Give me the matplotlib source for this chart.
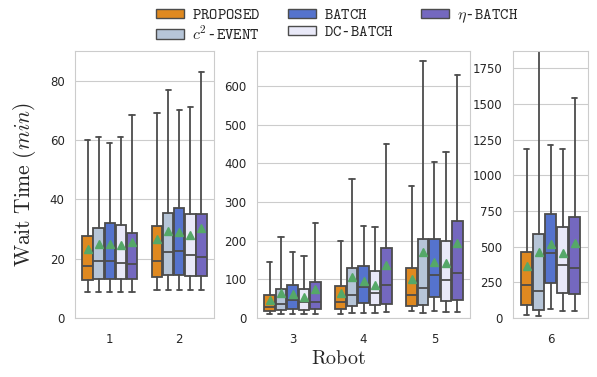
import matplotlib
matplotlib.use('Agg')
import matplotlib.pyplot as plt
import numpy as np
import seaborn as sns
from matplotlib.patches import Patch

sns.set_style('whitegrid')
plt.rcParams['mathtext.fontset'] = 'cm'

# robots split over three panels (different y ranges)
panels = [[1, 2], [3, 4, 5], [6]]
panel_ylim = [90, 690, 1870]
panel_yticks = [np.arange(0, 81, 20), np.arange(0, 601, 100), np.arange(0, 1751, 250)]

methods = ['PROPOSED', 'c2-EVENT', 'BATCH', 'DC-BATCH', 'eta-BATCH']
labels = [r'$\mathtt{PROPOSED}$', r'$c^2$-$\mathtt{EVENT}$', r'$\mathtt{BATCH}$',
          r'$\mathtt{DC}$-$\mathtt{BATCH}$', r'$\eta$-$\mathtt{BATCH}$']
base_colors = ['darkorange', 'lightsteelblue', 'royalblue', 'lavender', 'slateblue']

# box statistics, rows = methods, columns = robots 1..6 (wait time in min)
whislo = np.array([[8.6, 9.4, 11, 11, 18, 21],
                   [8.6, 9.4, 11, 13, 14, 14],
                   [8.6, 9.4, 11, 13, 17, 63],
                   [8.6, 9.4, 11, 13, 16, 49],
                   [8.6, 9.4, 11, 15, 16, 49]])
q1 = np.array([[12.8, 13.7, 18, 22, 31, 91],
               [13.1, 14.4, 21, 30, 33, 56],
               [13.1, 14.4, 23, 38, 54, 243],
               [13.0, 14.0, 21, 33, 45, 173],
               [13.0, 14.3, 22, 36, 46, 166]])
med = np.array([[17.5, 19.3, 29, 41, 59, 228],
                [19.3, 22.2, 37, 59, 78, 191],
                [19.3, 22.6, 47, 79, 111, 458],
                [18.7, 21.2, 42, 64, 98, 368],
                [18.2, 20.6, 42, 84, 116, 352]])
q3 = np.array([[27.5, 31.0, 60, 82, 128, 465],
               [30.3, 35.3, 76, 130, 204, 586],
               [32.1, 37.2, 86, 135, 205, 728],
               [31.2, 35.2, 75, 121, 198, 635],
               [28.8, 35.1, 94, 180, 250, 709]])
whishi = np.array([[60, 69, 144, 200, 342, 1184],
                   [61, 77, 210, 359, 663, 1880],
                   [59, 70, 170, 237, 402, 1211],
                   [61, 71, 161, 235, 430, 1184],
                   [68.5, 83, 246, 449, 628, 1542]])
means = np.array([[23.4, 26.5, 46, 65, 102, 364],
                  [25.0, 29.4, 64, 105, 170, 465],
                  [25.0, 29.0, 62, 95, 146, 518],
                  [24.7, 28.1, 55, 85, 142, 453],
                  [25.6, 30.2, 75, 136, 193, 523]])

colors = [sns.desaturate(c, 0.75) for c in base_colors]
gray = '#4c4c4c'
W, H = 597, 377
fig = plt.figure(figsize=(W / 100, H / 100), dpi=100)

# axes positions in pixels (left, right)
px = [(75, 214), (257, 470), (513, 588)]
top_px, bot_px = 51, 318
offsets = np.linspace(-0.32, 0.32, 5)

for p, robots in enumerate(panels):
    l, r = px[p]
    ax = fig.add_axes([l / W, 1 - bot_px / H, (r - l) / W, (bot_px - top_px) / H])
    for m in range(len(methods)):
        stats = []
        pos = []
        for k, rb in enumerate(robots):
            i = rb - 1
            stats.append(dict(whislo=whislo[m, i], q1=q1[m, i], med=med[m, i],
                              q3=q3[m, i], whishi=whishi[m, i], mean=means[m, i], fliers=[]))
            pos.append(k + offsets[m])
        ax.bxp(stats, positions=pos, widths=0.15, patch_artist=True, showmeans=True,
               manage_ticks=False,
               boxprops=dict(facecolor=colors[m], edgecolor=gray, linewidth=1.3),
               medianprops=dict(color=gray, linewidth=1.3),
               whiskerprops=dict(color=gray, linewidth=1.3),
               capprops=dict(color=gray, linewidth=1.3),
               meanprops=dict(marker='^', markerfacecolor='#55a868',
                              markeredgecolor='#55a868', markersize=5.5))
    ax.set_xlim(-0.5, len(robots) - 0.5)
    ax.set_xticks(range(len(robots)))
    ax.set_xticklabels([str(rb) for rb in robots])
    ax.set_ylim(0, panel_ylim[p])
    ax.set_yticks(panel_yticks[p])
    ax.xaxis.grid(False)
    ax.tick_params(axis='y', labelsize=8.5, pad=4)
    ax.tick_params(axis='x', labelsize=8.5, pad=7)

fig.text(25 / W, 1 - 185 / H, r'$\mathrm{Wait\ Time}\ (min)$', rotation=90,
         ha='center', va='center', fontsize=15.5)
fig.text(338 / W, 1 - 359 / H, r'$\mathrm{Robot}$', ha='center', va='center', fontsize=14.5)

handles = [Patch(facecolor=c, edgecolor=gray, linewidth=1.0) for c in colors]
fig.legend(handles, labels, ncol=3, loc='upper center', bbox_to_anchor=(0.565, 1.008),
           frameon=False, prop=dict(family='DejaVu Sans Mono', size=11.5),
           handlelength=1.75, handleheight=0.5, handletextpad=0.5,
           columnspacing=1.7, labelspacing=0.12, borderpad=0.15)

fig.savefig('out.png', dpi=100)
